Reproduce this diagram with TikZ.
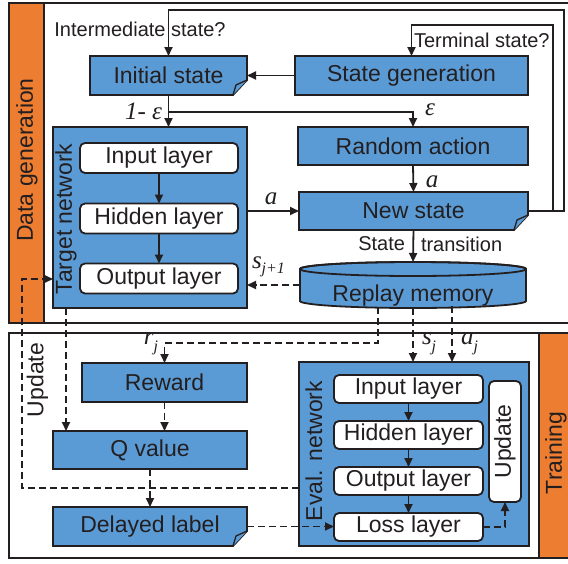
\documentclass[tikz,border=0pt]{standalone}
\usepackage{fontspec}
\setmainfont{Liberation Sans}
\newfontfamily\tms{Liberation Serif}
\usetikzlibrary{arrows.meta,backgrounds}
\definecolor{boxblue}{RGB}{91,155,213}
\definecolor{barorange}{RGB}{237,125,49}
\definecolor{ink}{RGB}{35,31,32}
\newcommand\earshape[1]{%
  \begin{scope}[on background layer]
    \draw[draw=ink, line width=1.8pt, fill=boxblue, line join=miter]
      (#1.north west) -- (#1.north east) -- ([yshift=15pt]#1.south east)
      -- ([xshift=-14pt]#1.south east) -- (#1.south west) -- cycle;
    \draw[draw=ink, line width=1.3pt, fill=boxblue, line join=round]
      ([yshift=15pt]#1.south east) -- ([xshift=-11pt,yshift=10pt]#1.south east)
      -- ([xshift=-14pt]#1.south east);
  \end{scope}}
\begin{document}
\begin{tikzpicture}[x=1pt,y=-1pt,
  every node/.style={inner sep=0pt, outer sep=0pt, text=ink, font=\fontsize{23}{26}\selectfont},
  bluebox/.style={draw=ink, line width=1.8pt, fill=boxblue},
  earbox/.style={draw=none, fill=none},
  layerbox/.style={draw=ink, line width=1.8pt, fill=white, rounded corners=5pt},
  frame/.style={draw=ink, line width=1.8pt},
  conn/.style={draw=ink, line width=1.8pt},
  arr/.style={conn, -{Triangle[length=9pt,width=8pt]}},
  darr/.style={arr, dash pattern=on 7pt off 4pt},
  dline/.style={conn, dash pattern=on 7pt off 4pt},
  smalltxt/.style={font=\fontsize{20}{22}\selectfont},
  mlab/.style={font=\tms\itshape\fontsize{25}{27}\selectfont},
  sublab/.style={font=\tms\itshape\fontsize{16}{16}\selectfont},
]
\useasboundingbox (0,0) rectangle (568,563);
\begin{scope}[on background layer]
  \fill[white] (0,0) rectangle (568,563);
\end{scope}

% frames
\draw[frame] (9,3) rectangle (575,323);
\draw[frame, fill=barorange] (9,3) rectangle (44,323);
\draw[frame] (9,333) rectangle (539,558);
\draw[frame, fill=barorange] (539,333) rectangle (575,558);
\node[rotate=90] (dglab) at (27,160) {Data generation};
\node[rotate=90] (trlab) at (556,453) {Training};

% data generation nodes
\node[earbox, minimum width=157pt, minimum height=39pt] (init) at (168.5,75.5) {Initial state};
\earshape{init}
\node[bluebox, minimum width=233pt, minimum height=39pt] (stategen) at (411.5,75.5) {State generation};
\node[bluebox, minimum width=230pt, minimum height=38pt] (random) at (413,146) {Random action};
\node[earbox, minimum width=229pt, minimum height=38pt] (newstate) at (413.5,211) {New state};
\earshape{newstate}
\node[earbox, minimum width=226pt, minimum height=46pt] (replay) at (413,285) {\raisebox{-16pt}[0pt][0pt]{Replay memory}};
\begin{scope}[on background layer]
  \draw[conn, fill=boxblue] ([yshift=-7pt]replay.north west) -- ([yshift=7pt]replay.south west)
    arc[start angle=180, end angle=360, x radius=113pt, y radius=7pt]
    -- ([yshift=-7pt]replay.north east)
    arc[start angle=0, end angle=180, x radius=113pt, y radius=7pt] -- cycle;
  \draw[conn] ([yshift=-7pt]replay.north) ellipse [x radius=113pt, y radius=7pt];
\end{scope}

% target network
\node[bluebox, minimum width=194pt, minimum height=181pt] (target) at (150,217.5) {};
\node[rotate=90] (tlab) at (66,219) {Target network};
\node[layerbox, minimum width=158pt, minimum height=30pt] (tin) at (159,158) {Input layer};
\node[layerbox, minimum width=158pt, minimum height=30pt] (thid) at (159,218.5) {Hidden layer};
\node[layerbox, minimum width=158pt, minimum height=30pt] (tout) at (159,278.5) {Output layer};

% training nodes
\node[bluebox, minimum width=165pt, minimum height=39pt] (reward) at (164.5,382.5) {Reward};
\node[bluebox, minimum width=194pt, minimum height=38pt] (qvalue) at (150,450) {Q value};
\node[earbox, minimum width=194pt, minimum height=39pt] (delayed) at (150,526.5) {Delayed label};
\earshape{delayed}
\node[bluebox, minimum width=230pt, minimum height=184pt] (eval) at (414,454) {};
\node[rotate=90] (elab) at (314,451) {Eval. network};
\node[layerbox, minimum width=149pt, minimum height=28pt] (ein) at (408.5,389) {Input layer};
\node[layerbox, minimum width=149pt, minimum height=28pt] (ehid) at (408.5,435) {Hidden layer};
\node[layerbox, minimum width=149pt, minimum height=28pt] (eout) at (408.5,481) {Output layer};
\node[layerbox, minimum width=149pt, minimum height=28pt] (eloss) at (408.5,527) {Loss layer};
\node[layerbox, minimum width=32pt, minimum height=121pt] (eupd) at (505,441.5) {};
\node[rotate=90] (eupdlab) at (505,441.5) {Update};
\node[rotate=90] (updlab) at (37.5,380) {Update};

% labels
\node[smalltxt] (interlab) at (140,29) {Intermediate state?};
\node[smalltxt, anchor=west] (termlab) at (414,40) {Terminal state?};
\node[mlab, anchor=east] (epslab1) at (162,111) {1- ε};
\node[mlab] (epslab2) at (430,110) {ε};
\node[mlab] (alab1) at (432,182) {a};
\node[mlab] (alab2) at (271,199) {a};
\node[smalltxt, anchor=east] (stlab) at (405,244) {State};
\node[smalltxt, anchor=west] (trnlab) at (421,244) {transition};
\node[anchor=west] (sj1lab) at (252,267) {\tms\itshape\fontsize{25}{27}\selectfont s\raisebox{-5pt}{\fontsize{16}{16}\selectfont j+1}};
\node[anchor=east] (rjlab) at (158,344) {\tms\itshape\fontsize{25}{27}\selectfont r\raisebox{-7pt}{\fontsize{16}{16}\selectfont j}};
\node[anchor=west] (sjlab) at (422,344) {\tms\itshape\fontsize{25}{27}\selectfont s\raisebox{-7pt}{\fontsize{16}{16}\selectfont j}};
\node[anchor=west] (ajlab) at (461,344) {\tms\itshape\fontsize{25}{27}\selectfont a\raisebox{-7pt}{\fontsize{16}{16}\selectfont j}};

% coordinates
\coordinate (lpA) at (564,10);
\coordinate (lpB) at (553,25);
\coordinate (br) at (168.5,112);
\coordinate (rj1) at (378,307);
\coordinate (rj2) at (378,343);
\coordinate (aj) at (452,306);
\coordinate (tb) at (66,308);
\coordinate (u1) at (22,488);
\coordinate (u2) at (22,279);

% solid connectors
\draw[arr] (stategen.west) -- (init.east);
\draw[arr] (newstate.east) -| (lpA) -| (init.north);
\draw[arr] (newstate.east) -| (lpB) -| (stategen.north);
\draw[arr] (init.south) -- (init.south |- target.north);
\draw[arr] (br) -| (random.north);
\draw[arr] (random.south) -- (newstate.north);
\draw[arr] (target.east |- newstate.west) -- (newstate.west);
\draw[arr] (newstate.south) -- (replay.north);
\draw[arr] (tin) -- (thid);
\draw[arr] (thid) -- (tout);
\draw[arr] (ein) -- (ehid);
\draw[arr] (ehid) -- (eout);
\draw[arr] (eout) -- (eloss);

% dashed connectors
\draw[darr] (replay.west) -- (replay.west -| target.east);
\draw[darr] (rj1) -- (rj2) -| (reward.north);
\draw[darr] (replay.south) -- (replay.south |- eval.north);
\draw[darr] (aj) -- (aj |- eval.north);
\draw[darr] (tb) -- (tb |- qvalue.north);
\draw[darr] (reward.south) -- (reward.south |- qvalue.north);
\draw[darr] (qvalue.south) -- (delayed.north);
\draw[darr] (delayed.east) -- (delayed.east -| eloss.west);
\draw[darr] (eloss.east) -| (eupd.south);
\draw[darr] (eval.west |- u1) -- (u1) -- (u2) -- (u2 -| target.west);
\end{tikzpicture}
\end{document}
